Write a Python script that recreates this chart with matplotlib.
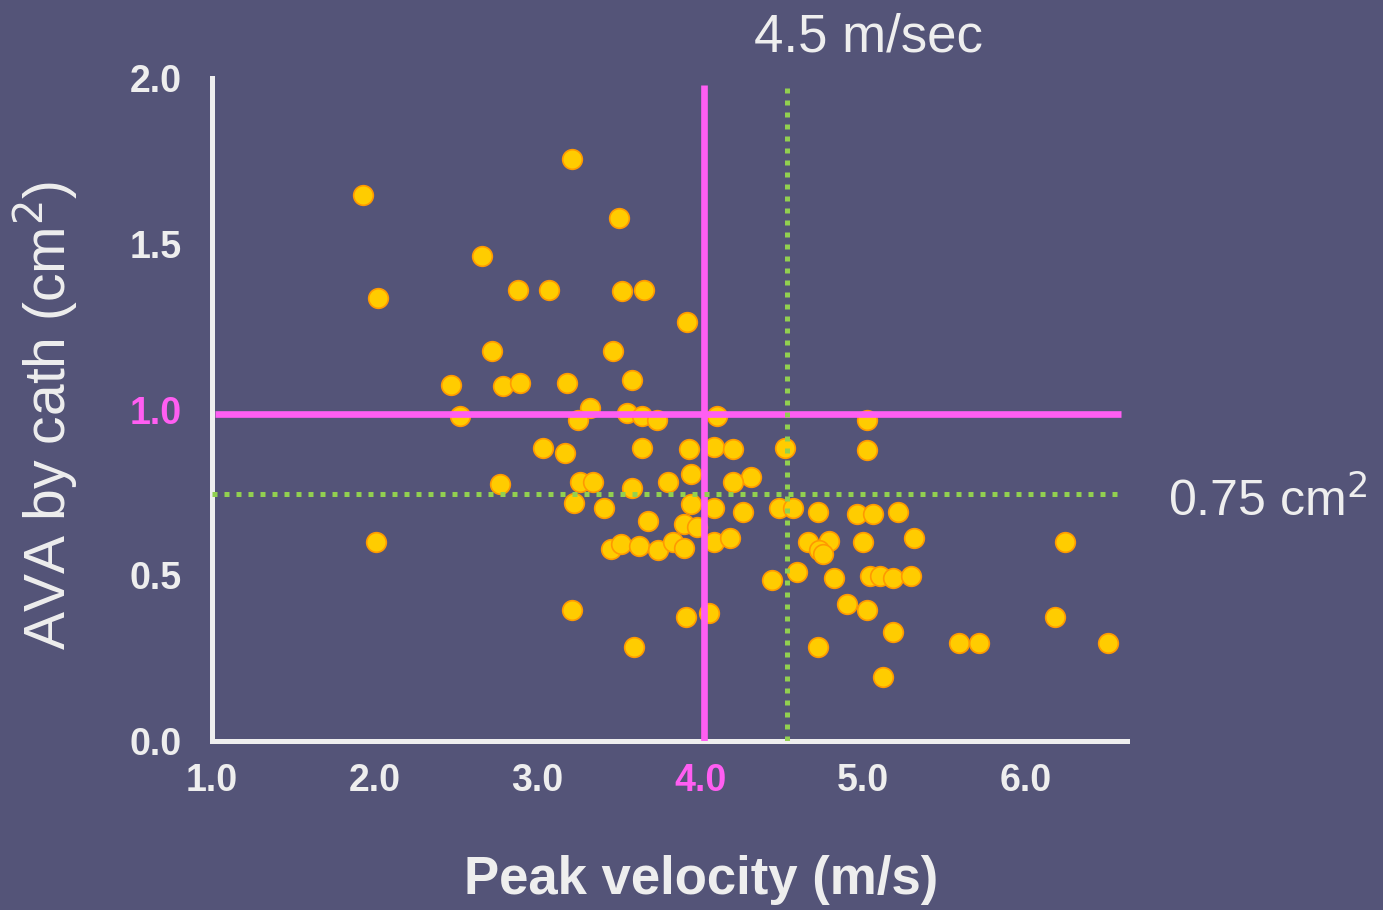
import matplotlib
matplotlib.use('Agg')
import matplotlib.pyplot as plt

# colours
BG = '#545478'
FG = '#EEEEEE'
MAGENTA = '#FF5EF2'
GREEN = '#92D050'
DOT = '#FFCC00'
DOT_EDGE = '#FF9900'

# data: peak velocity (m/s) vs AVA by cath (cm2)
velocity = [1.93, 2.02, 3.21, 3.50, 2.66, 2.88, 3.07, 3.52, 3.65, 3.92,
            3.46, 2.72, 2.47, 2.79, 2.89, 3.18, 3.58, 2.52, 3.32, 3.25,
            3.55, 3.64, 3.73, 4.10, 5.02, 3.03, 3.17, 3.64, 3.93, 4.08,
            4.20, 4.52, 5.02, 3.94, 4.31, 2.77, 3.26, 3.34, 3.58, 3.80,
            4.20, 3.22, 3.41, 3.94, 4.08, 4.26, 4.48, 4.57, 4.72, 4.96,
            5.06, 5.21, 3.68, 3.90, 3.98, 2.01, 3.45, 3.51, 3.62, 3.74,
            3.83, 3.90, 4.08, 4.18, 4.66, 4.79, 4.73, 4.75, 5.00, 5.31,
            6.24, 4.44, 4.59, 4.82, 5.04, 5.10, 5.18, 5.29, 3.21, 3.91,
            4.05, 4.90, 5.02, 5.18, 6.18, 5.59, 5.71, 6.50, 3.59, 4.72,
            5.12]
ava = [1.647, 1.335, 1.755, 1.577, 1.462, 1.360, 1.360, 1.357, 1.360, 1.263,
       1.175, 1.175, 1.075, 1.070, 1.080, 1.080, 1.088, 0.979, 1.006, 0.967,
       0.988, 0.979, 0.967, 0.979, 0.967, 0.885, 0.870, 0.885, 0.882, 0.888,
       0.882, 0.885, 0.879, 0.804, 0.795, 0.776, 0.782, 0.782, 0.764, 0.782,
       0.782, 0.719, 0.704, 0.716, 0.704, 0.692, 0.704, 0.704, 0.692, 0.686,
       0.686, 0.692, 0.665, 0.656, 0.647, 0.601, 0.580, 0.595, 0.589, 0.577,
       0.601, 0.583, 0.601, 0.613, 0.601, 0.604, 0.577, 0.565, 0.601, 0.613,
       0.601, 0.486, 0.511, 0.492, 0.498, 0.498, 0.492, 0.498, 0.396, 0.375,
       0.387, 0.414, 0.396, 0.329, 0.375, 0.296, 0.296, 0.296, 0.284, 0.284,
       0.193]

x_ticks = [1.0, 2.0, 3.0, 4.0, 5.0, 6.0]
y_ticks = [0.0, 0.5, 1.0, 1.5, 2.0]
vel_cut, ava_cut = 4.0, 1.0      # magenta cut-offs (labelled ticks)
vel_sev, ava_sev = 4.5, 0.75     # green "severe" cut-offs
# the drawn lines sit a touch off the tick marks in the original slide
vel_cut_line, ava_cut_line = 4.02, 0.985
vel_sev_line, ava_sev_line = 4.53, 0.745

fig = plt.figure(figsize=(13.83, 9.10), dpi=100, facecolor=BG)
ax = fig.add_axes([0.1533, 0.1857, 0.6617, 0.7286])
ax.set_facecolor(BG)

ax.scatter(velocity, ava, s=200, c=DOT, edgecolors=DOT_EDGE, linewidths=1.2, zorder=2)

# threshold lines
ax.plot([1.02, 6.58], [ava_cut_line, ava_cut_line], color=MAGENTA, lw=4.8, zorder=3,
        solid_capstyle='butt')
ax.plot([vel_cut_line, vel_cut_line], [0, 1.98], color=MAGENTA, lw=4.8, zorder=3,
        solid_capstyle='butt')
ax.plot([1.0, 6.57], [ava_sev_line, ava_sev_line], color=GREEN, lw=3.6, ls=(0, (1, 1.4)),
        dash_capstyle='butt', zorder=3)
ax.plot([vel_sev_line, vel_sev_line], [0, 1.98], color=GREEN, lw=3.6, ls=(0, (1, 1.4)),
        dash_capstyle='butt', zorder=3)

ax.set_xlim(1.0, 6.62)
ax.set_ylim(0, 2.0)

for side in ['top', 'right']:
    ax.spines[side].set_visible(False)
for side in ['left', 'bottom']:
    ax.spines[side].set_color(FG)
    ax.spines[side].set_linewidth(3.6)

ax.set_xticks(x_ticks)
ax.set_yticks(y_ticks)
ax.set_xticklabels(['%.1f' % v for v in x_ticks], fontsize=27, fontweight='bold',
                   family='Liberation Sans')
ax.set_yticklabels(['%.1f' % v for v in y_ticks], fontsize=27, fontweight='bold',
                   family='Liberation Sans')
ax.tick_params(axis='x', length=0, pad=16, colors=FG)
ax.tick_params(axis='y', length=0, pad=22, colors=FG)
for lab, v in zip(ax.get_xticklabels(), x_ticks):
    if v == vel_cut:
        lab.set_color(MAGENTA)
for lab, v in zip(ax.get_yticklabels(), y_ticks):
    if v == ava_cut:
        lab.set_color(MAGENTA)

fig.text(0.507, 0.033, 'Peak velocity (m/s)', ha='center', va='center', fontsize=38,
         fontweight='bold', color=FG, family='Liberation Sans')
fig.text(0.033, 0.544, 'AVA by cath (cm$^2$)', ha='center', va='center', rotation=90,
         fontsize=41, color=FG, family='Liberation Sans')
fig.text(0.6276, 0.959, '%.1f m/sec' % vel_sev, ha='center', va='center', fontsize=38,
         color=FG, family='Liberation Sans')
fig.text(0.9165, 0.449, '%.2f cm$^2$' % ava_sev, ha='center', va='center', fontsize=36,
         color=FG, family='Liberation Sans')

fig.savefig('out.png', dpi=100, facecolor=BG)
